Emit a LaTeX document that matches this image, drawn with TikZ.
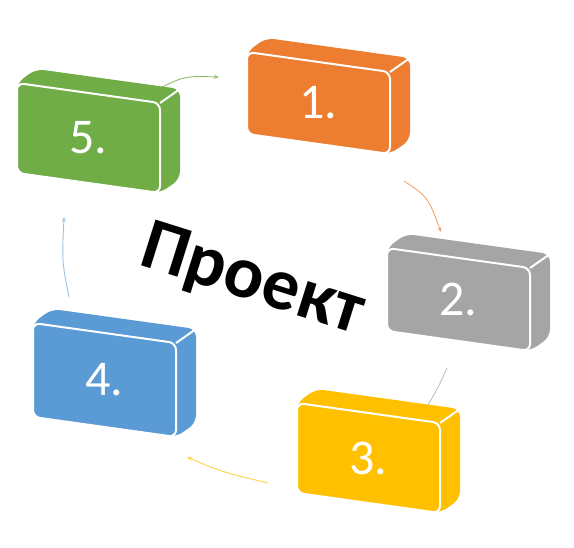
\documentclass[tikz,border=0pt]{standalone}
\usepackage{fontspec}
\setmainfont{Carlito}
\usetikzlibrary{arrows.meta}
\definecolor{boxorange}{HTML}{ED7D31}
\definecolor{boxgray}{HTML}{A5A5A5}
\definecolor{boxyellow}{HTML}{FFC000}
\definecolor{boxblue}{HTML}{5B9BD5}
\definecolor{boxgreen}{HTML}{70AD47}

\begin{document}
\begin{tikzpicture}[
  x=1pt, y=-1pt,
  >={Stealth[length=5pt,width=4pt]},
  side/.style={rounded corners=8pt},
  face/.style={draw=white, line width=2pt, rounded corners=7pt},
  edge/.style={draw=white, line width=2pt},
  num/.style={text=white, font=\fontsize{50}{50}\selectfont},
  link/.style={->, line width=0.9pt},
  title/.style={font=\fontsize{74}{74}\selectfont\bfseries, rotate=-17.5}
]
  \useasboundingbox (0,0) rectangle (574,548);

  % arrow ends
  \coordinate (o5) at (160,88);
  \coordinate (i1) at (219,77);
  \coordinate (o1) at (404,181);
  \coordinate (i2) at (441,232);
  \coordinate (o2) at (447,368);
  \coordinate (i3) at (425,410);
  \coordinate (o3) at (268,483);
  \coordinate (i4) at (187,457);
  \coordinate (o4) at (69,297);
  \coordinate (i5) at (64,217);

  \draw[link, boxgreen!80] (o5) .. controls (185,76) .. (i1);
  \draw[link, boxorange!70] (o1) .. controls (428,197) .. (i2);
  \draw[link, boxgray!70] (o2) .. controls (438,388) .. (i3);
  \draw[link, boxyellow!70] (o3) .. controls (222,472) .. (i4);
  \draw[link, boxblue!60] (o4) .. controls (62,262) .. (i5);

  % blocks
  \foreach \n/\col/\x/\y/\h in {1/boxorange/247/52/82, 2/boxgray/387/248/83,
      3/boxyellow/297/403/90, 4/boxblue/33/323/94, 5/boxgreen/17/83/90}{
    \begin{scope}[shift={(\x,\y)}]
      \fill[\col, side] (0,0) -- (19,-14) -- (163,6) -- (163,\h+6)
        -- (143,\h+20) -- (0,\h) -- cycle;
      \draw[edge] (143,20) -- (163,6);
      \path[face, fill=\col] (0,0) -- (143,20) -- (143,\h+20) -- (0,\h) -- cycle;
      \node[num] (n\n) at (71.5,\h/2+10) {\n.};
    \end{scope}
  }

  \node[title] (proj) at (252,282) {Проект};
\end{tikzpicture}
\end{document}
